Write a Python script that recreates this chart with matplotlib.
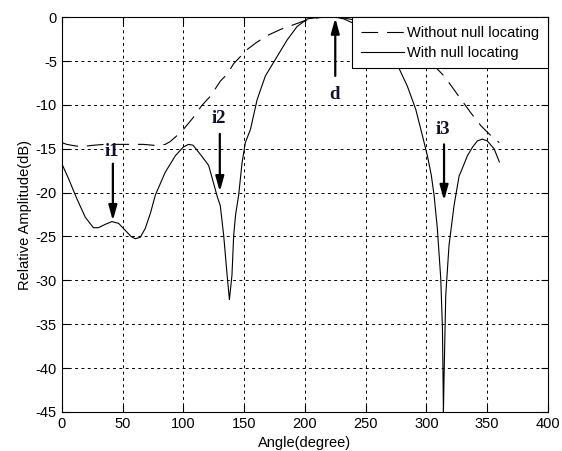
import numpy as np
import matplotlib
matplotlib.use("Agg")
import matplotlib.pyplot as plt

# pattern without null locating (dashed)
ang_plain = [0, 4, 8, 12.4, 20, 26, 35, 45, 55, 67, 75, 81, 85, 89, 94.8, 100, 108.4, 115,
             122.3, 130.4, 136, 141.4, 146.9, 152.4, 160, 169, 180, 190, 202, 212, 222, 232,
             240, 250, 260, 270, 280, 290, 300, 306, 314.5, 325.5, 336.5, 345, 353, 360]
amp_plain = [-14.3, -14.5, -14.6, -14.7, -14.7, -14.6, -14.5, -14.5, -14.5, -14.5, -14.6, -14.6,
             -14.5, -14.2, -13.5, -12.8, -11.4, -10.1, -9.0, -7.3, -6.5, -5.3, -4.5, -3.7, -2.9,
             -2.1, -1.4, -0.9, -0.3, -0.05, 0.0, -0.1, -0.3, -0.8, -1.4, -2.1, -2.9, -3.8, -4.9,
             -5.5, -6.7, -8.8, -10.9, -12.4, -13.5, -14.3]

# pattern with null locating (solid)
ang_null = [0, 5.5, 12.4, 19.3, 26, 30, 36, 41.2, 46.7, 52.2, 57, 60.4, 64.5, 68.6, 73, 76.9,
            85, 93.4, 100, 104.3, 108, 112.6, 116, 120.8, 125, 128, 130.4, 133.2, 136, 137.9,
            140, 141.4, 143, 145.5, 148.3, 151, 155.2, 160.7, 167.5, 175.8, 185.4, 193.6, 202,
            210, 218, 225, 232, 240, 250, 260, 268, 276, 284.4, 291.2, 296.7, 300.8, 304,
            306.3, 309, 311.8, 313.2, 314, 314.5, 315.9, 318.6, 322.7, 326.9, 328.2, 333.7,
            338, 342, 346, 350, 355.7, 360]
amp_null = [-16.7, -18.4, -20.7, -22.8, -24.0, -24.0, -23.6, -23.3, -23.5, -24.3, -25.0, -25.25,
            -25.1, -24.1, -22.3, -20.3, -17.7, -15.8, -14.8, -14.5, -14.6, -15.4, -16.0, -16.9,
            -19.0, -20.5, -21.5, -24.9, -29.4, -32.2, -29.4, -24.9, -22.5, -20.3, -16.6, -14.3,
            -12.8, -9.4, -6.7, -4.8, -2.6, -1.07, -0.2, -0.05, 0.0, 0.0, -0.2, -0.7, -1.6, -2.6,
            -3.8, -5.4, -7.9, -10.5, -13.5, -15.8, -18.0, -20.3, -24.1, -29.8, -35.5, -45.0,
            -41.1, -31.7, -26.0, -21.5, -18.1, -17.7, -15.8, -14.8, -14.1, -13.9, -14.1, -15.0,
            -16.5]

# annotation labels: text, angle, text level, arrow tail, arrow head
marks = ["i1", "i2", "d", "i3"]
mark_ang = [42, 130, 225, 314.5]
mark_txt = [-15.3, -11.6, -8.8, -12.8]
mark_tail = [-16.7, -13.3, -6.7, -14.5]
mark_head = [-23.2, -19.9, -0.1, -20.9]

plt.rcParams["font.family"] = ["Liberation Sans", "DejaVu Sans"]
plt.rcParams["axes.unicode_minus"] = False

fig = plt.figure(figsize=(5.62, 4.51), dpi=100)
ax = fig.add_axes([0.110, 0.0865, 0.865, 0.8755])

ax.plot(ang_plain, amp_plain, color="black", lw=0.8, linestyle=(0, (15, 8)),
        label="Without null locating")
ax.plot(ang_null, amp_null, color="black", lw=0.8, label="With null locating")

for t, a, ty, y0, y1 in zip(marks, mark_ang, mark_txt, mark_tail, mark_head):
    ax.annotate("", xy=(a, y1), xytext=(a, y0),
                arrowprops=dict(arrowstyle="-|>,head_length=0.9,head_width=0.25",
                                color="black", lw=1.6, shrinkA=0, shrinkB=0))
    ax.text(a - 1, ty, t, ha="center", va="center", fontsize=13.5, fontweight="bold",
            family="Liberation Serif", color="#101030")

ax.set_xlim(0, 400)
ax.set_ylim(-45, 0)
ax.set_xticks(np.arange(0, 401, 50))
ax.set_yticks(np.arange(-45, 1, 5))
ax.tick_params(direction="in", labelsize=10.5, length=5, top=True, right=True)
ax.grid(True, color="black", lw=0.7, linestyle=(0, (3, 3.5)))
for s in ax.spines.values():
    s.set_linewidth(0.8)

ax.set_xlabel("Angle(degree)", fontsize=10.5, labelpad=4)
ax.set_ylabel("Relative Amplitude(dB)", fontsize=10.5, labelpad=3)

leg = ax.legend(loc="upper right", fontsize=10.5, fancybox=False, edgecolor="black",
                framealpha=1, borderaxespad=0, handlelength=2.95, handletextpad=0.2,
                labelspacing=0.4, borderpad=0.6)
leg.get_frame().set_linewidth(0.8)

fig.savefig("out.png", dpi=100)
